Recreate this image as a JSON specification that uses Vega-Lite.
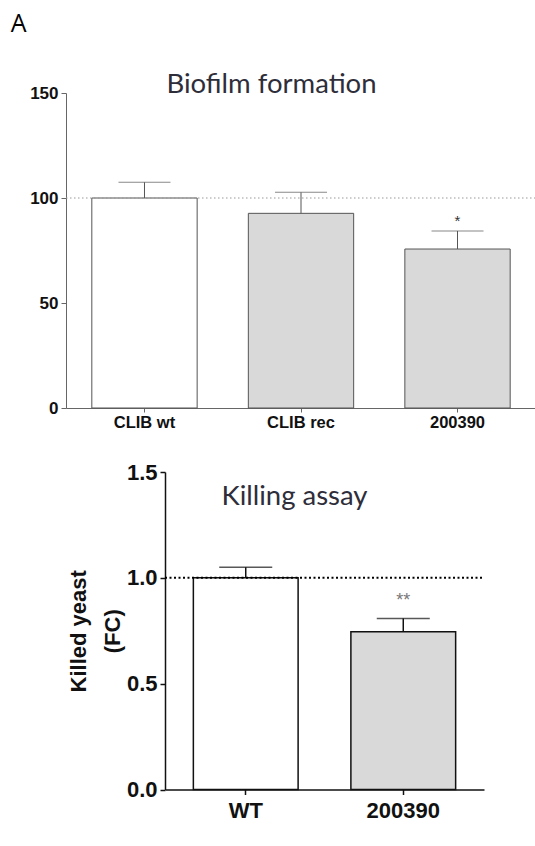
{
  "$schema": "https://vega.github.io/schema/vega-lite/v6.json",
  "background": "white",
  "padding": {"left": 10, "top": 11, "right": 0, "bottom": 0},
  "title": {"text": "A", "anchor": "start", "frame": "bounds", "font": "Open Sans", "fontSize": 25, "fontWeight": "normal", "color": "#000", "dx": -19, "offset": 34},
  "config": {"view": {"stroke": null}},
  "spacing": 30,
  "vconcat": [
    {
      "width": 470,
      "height": 315,
      "title": {"text": "Biofilm formation", "font": "Lato", "fontSize": 27.5, "fontWeight": "normal", "color": "#2e2e3a", "dx": -29.5, "offset": -14},
      "data": {"values": [
        {"strain": "CLIB wt", "mean": 100, "upper": 107.5, "group": "wt", "star": ""},
        {"strain": "CLIB rec", "mean": 92.7, "upper": 102.7, "group": "mut", "star": ""},
        {"strain": "200390", "mean": 75.7, "upper": 84.3, "group": "mut", "star": "*"}
      ]},
      "encoding": {
        "x": {"field": "strain", "type": "nominal", "sort": null,
          "scale": {"paddingInner": 0.327, "paddingOuter": 0.165},
          "axis": {"title": null, "labelAngle": 0, "labelFont": "Liberation Sans", "labelFontWeight": "bold", "labelFontSize": 16.5, "labelColor": "#111", "domainColor": "#666", "tickColor": "#666", "tickSize": 4, "labelPadding": 2}}
      },
      "layer": [
        {"mark": {"type": "bar", "stroke": "#555", "strokeWidth": 1},
         "encoding": {
           "y": {"field": "mean", "type": "quantitative",
             "scale": {"domain": [0, 150], "nice": false},
             "axis": {"title": null, "values": [0, 50, 100, 150], "grid": false, "labelFont": "Liberation Sans", "labelFontWeight": "bold", "labelFontSize": 17, "labelColor": "#111", "domainColor": "#666", "tickColor": "#666", "tickSize": 5, "labelPadding": 3}},
           "fill": {"field": "group", "type": "nominal", "scale": {"domain": ["wt", "mut"], "range": ["#ffffff", "#d9d9d9"]}, "legend": null}
         }},
        {"mark": {"type": "rule", "color": "#555", "strokeWidth": 1},
         "encoding": {"y": {"field": "mean", "type": "quantitative"}, "y2": {"field": "upper"}}},
        {"mark": {"type": "tick", "color": "#555", "thickness": 1, "size": 52, "orient": "horizontal"},
         "encoding": {"y": {"field": "upper", "type": "quantitative"}}},
        {"mark": {"type": "text", "font": "Liberation Sans", "fontSize": 15, "color": "#333", "dy": -10},
         "encoding": {"y": {"field": "upper", "type": "quantitative"}, "text": {"field": "star"}}},
        {"data": {"values": [{"ref": 100}]},
         "mark": {"type": "rule", "color": "#999", "strokeDash": [1.5, 2.5], "strokeWidth": 1},
         "encoding": {"y": {"field": "ref", "type": "quantitative"}, "x": {"value": 0}, "x2": {"value": 470}}}
      ]
    },
    {
      "spacing": 0,
      "hconcat": [
        {"width": 0.5, "height": 317, "data": {"values": []}, "mark": {"type": "point", "opacity": 0}, "encoding": {}},
        {
          "width": 319,
          "height": 317.5,
          "data": {"values": [
            {"strain": "WT", "mean": 1.0, "upper": 1.05, "group": "wt", "star": ""},
            {"strain": "200390", "mean": 0.745, "upper": 0.808, "group": "mut", "star": "**"}
          ]},
          "encoding": {
            "x": {"field": "strain", "type": "nominal", "sort": null,
              "scale": {"paddingInner": 0.335, "paddingOuter": 0.18},
              "axis": {"title": null, "labelAngle": 0, "labelFont": "Liberation Sans", "labelFontWeight": "bold", "labelFontSize": 22, "labelColor": "#111", "domainColor": "#111", "domainWidth": 1.5, "tickColor": "#111", "tickWidth": 1.5, "tickSize": 5, "labelPadding": 6}}
          },
          "layer": [
            {"mark": {"type": "bar", "stroke": "#111", "strokeWidth": 1.5},
             "encoding": {
               "y": {"field": "mean", "type": "quantitative",
                 "scale": {"domain": [0, 1.5], "nice": false},
                 "axis": {"title": ["Killed yeast", "(FC)"], "titleFont": "Liberation Sans", "titleFontWeight": "bold", "titleFontSize": 22, "titleLineHeight": 34, "titleColor": "#111", "titlePadding": 2, "values": [0, 0.5, 1, 1.5], "format": ".1f", "grid": false, "labelFont": "Liberation Sans", "labelFontWeight": "bold", "labelFontSize": 22, "labelColor": "#111", "domainColor": "#111", "domainWidth": 1.5, "tickColor": "#111", "tickWidth": 1.5, "tickSize": 5, "labelPadding": 3}},
               "fill": {"field": "group", "type": "nominal", "scale": {"domain": ["wt", "mut"], "range": ["#ffffff", "#d4d4d4"]}, "legend": null}
             }},
            {"mark": {"type": "rule", "color": "#111", "strokeWidth": 1.5},
             "encoding": {"y": {"field": "mean", "type": "quantitative"}, "y2": {"field": "upper"}}},
            {"mark": {"type": "tick", "color": "#111", "thickness": 1.5, "size": 53, "orient": "horizontal"},
             "encoding": {"y": {"field": "upper", "type": "quantitative"}}},
            {"mark": {"type": "text", "font": "Liberation Sans", "fontSize": 18, "color": "#777", "dy": -17},
             "encoding": {"y": {"field": "upper", "type": "quantitative"}, "text": {"field": "star"}}},
            {"data": {"values": [{"ref": 1.0}]},
             "mark": {"type": "rule", "color": "#000", "strokeDash": [2, 2.5], "strokeWidth": 2},
             "encoding": {"y": {"field": "ref", "type": "quantitative"}, "x": {"value": 0}, "x2": {"value": 319}}},
            {"data": {"values": [{"label": "Killing assay", "pos": 1.346}]},
             "mark": {"type": "text", "font": "Lato", "fontSize": 27.5, "color": "#2e2e3a", "dx": -30, "baseline": "alphabetic"},
             "encoding": {"y": {"field": "pos", "type": "quantitative"}, "x": {"value": 159.5}, "text": {"field": "label"}}}
          ]
        }
      ]
    }
  ]
}
